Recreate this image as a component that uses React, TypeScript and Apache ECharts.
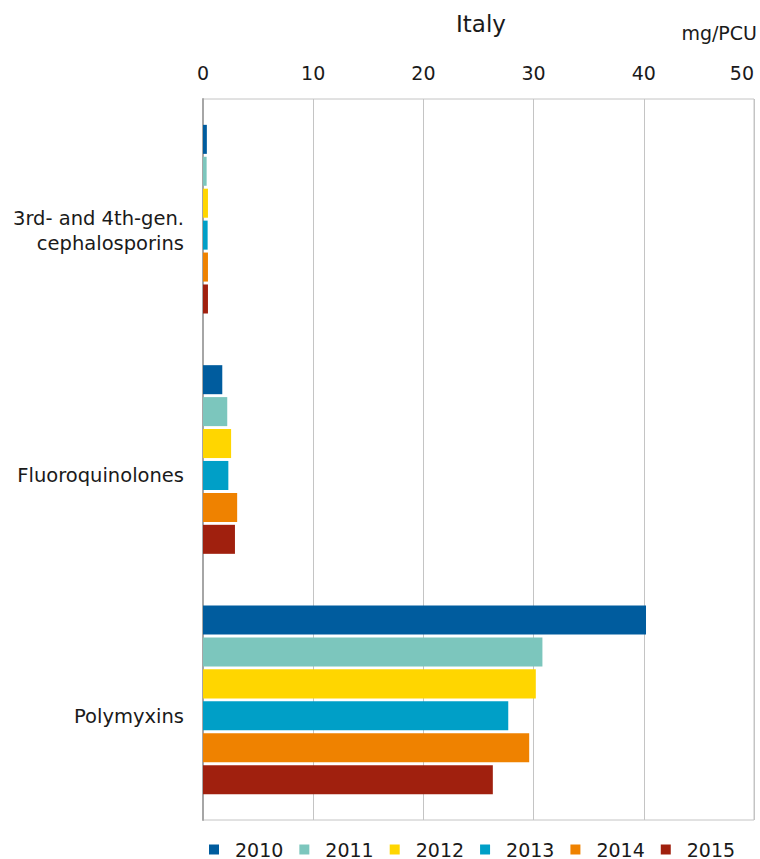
import React, { useEffect, useRef } from "react";
import * as echarts from "echarts";

const categories = ["3rd- and 4th-gen.\ncephalosporins", "Fluoroquinolones", "Polymyxins"];
const years = ["2010", "2011", "2012", "2013", "2014", "2015"];
const colors = ["#005c9e", "#7cc6bd", "#ffd600", "#009fc7", "#ef8200", "#a0200e"];
const v2010 = [0.35, 1.75, 40.2];
const v2011 = [0.33, 2.2, 30.8];
const v2012 = [0.45, 2.55, 30.2];
const v2013 = [0.42, 2.3, 27.7];
const v2014 = [0.45, 3.1, 29.6];
const v2015 = [0.45, 2.9, 26.3];
const seriesValues = [v2010, v2011, v2012, v2013, v2014, v2015];
const xTicks = { min: 0, max: 50, interval: 10 };
// downward shift (px, doubled as top padding) of each category label, as in the reference
const labelPad = [24, 31, 33];

const FONT = "DejaVu Sans, Verdana, sans-serif";

export default function App() {
  const ref = useRef<HTMLDivElement>(null);
  useEffect(() => {
    if (!ref.current) return;
    const chart = echarts.init(ref.current, null, { renderer: "svg" });
    const rich: Record<string, any> = {};
    labelPad.forEach((p, i) => {
      rich["p" + i] = { fontFamily: FONT, fontSize: 19.5, color: "#1a1a1a", lineHeight: 25, padding: [p, 0, 0, 0], align: "right" };
    });
    chart.setOption({
      animation: false,
      textStyle: { fontFamily: FONT, color: "#1a1a1a" },
      title: {
        text: "Italy",
        left: 451,
        top: 7,
        textStyle: { fontFamily: FONT, fontSize: 23, fontWeight: "normal", color: "#1a1a1a" },
      },
      graphic: [
        {
          type: "text",
          right: 3,
          top: 23,
          style: { text: "mg/PCU", fontFamily: FONT, fontSize: 19, fill: "#1a1a1a" },
        },
      ],
      legend: {
        data: years,
        left: 204,
        top: 835,
        icon: "rect",
        itemWidth: 10,
        itemHeight: 10,
        itemGap: 16,
        textStyle: { fontFamily: FONT, fontSize: 19, color: "#1a1a1a", padding: [0, 0, 0, 11] },
      },
      grid: {
        left: 203,
        right: 6,
        top: 99,
        bottom: 39,
        show: true,
        borderColor: "#c4c4c4",
        borderWidth: 1,
        outerBoundsMode: "none",
        containLabel: false,
      },
      xAxis: {
        type: "value",
        position: "top",
        min: xTicks.min,
        max: xTicks.max,
        interval: xTicks.interval,
        axisLine: { show: false },
        axisTick: { show: false },
        axisLabel: { fontFamily: FONT, fontSize: 19, color: "#1a1a1a", margin: 17, alignMaxLabel: "right" },
        splitLine: { show: true, lineStyle: { color: "#c4c4c4", width: 1 } },
      },
      yAxis: {
        type: "category",
        data: categories,
        inverse: true,
        axisLine: { show: true, lineStyle: { color: "#a6a6a6", width: 2 } },
        axisTick: { show: false },
        axisLabel: {
          fontFamily: FONT,
          fontSize: 19.5,
          color: "#1a1a1a",
          margin: 19,
          align: "right",
          lineHeight: 25,
          rich,
          formatter: (value: string, index: number) =>
            value
              .split("\n")
              .map((line) => `{p${index}|${line}}`)
              .join("\n"),
        },
      },
      series: years.map((y, i) => ({
        name: y,
        type: "bar",
        data: seriesValues[i],
        itemStyle: { color: colors[i] },
        barGap: "10%",
        barCategoryGap: "21.5%",
      })),
    });
    return () => chart.dispose();
  }, []);
  return <div ref={ref} style={{ width: 760, height: 859, position: "absolute", left: 0, top: 0 }} />;
}
